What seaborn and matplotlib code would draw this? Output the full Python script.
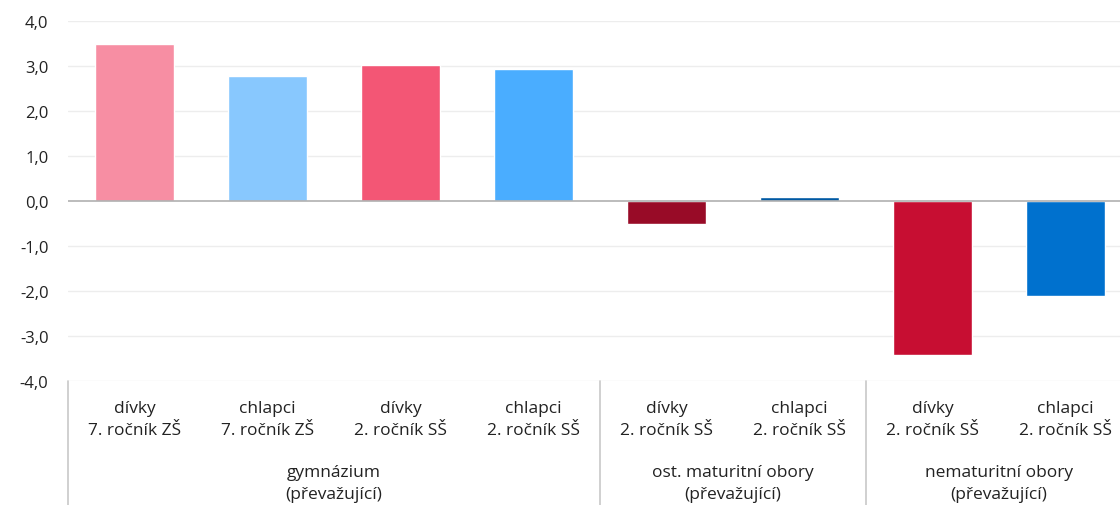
import matplotlib.pyplot as plt
import matplotlib.transforms as mtransforms
import seaborn as sns
import pandas as pd

# data
sexes = ["dívky", "chlapci", "dívky", "chlapci", "dívky", "chlapci", "dívky", "chlapci"]
grades = ["7. ročník ZŠ", "7. ročník ZŠ", "2. ročník SŠ", "2. ročník SŠ",
          "2. ročník SŠ", "2. ročník SŠ", "2. ročník SŠ", "2. ročník SŠ"]
groups = ["gymnázium\n(převažující)", "ost. maturitní obory\n(převažující)",
          "nematuritní obory\n(převažující)"]
group_sizes = [4, 2, 2]
values = [3.49, 2.77, 3.02, 2.93, -0.52, 0.07, -3.44, -2.13]
colors = ["#F78EA3", "#88C8FE", "#F35675", "#4AADFF",
          "#980B27", "#0059A3", "#C70E32", "#0071CE"]
yticks = [-4, -3, -2, -1, 0, 1, 2, 3, 4]

sns.set_style("white")
plt.rcParams["font.family"] = ["Open Sans", "DejaVu Sans"]

df = pd.DataFrame({"idx": [str(i) for i in range(len(values))], "value": values})

fig = plt.figure(figsize=(11.2, 5.06), dpi=100)
# plot area runs a little past the right edge, as in the reference
ax = fig.add_axes([0.0607, 0.246, 0.95, 0.711])

for y in yticks:
    if y != 0:
        ax.axhline(y, color="#EDEDED", lw=1, zorder=0)

sns.barplot(data=df, x="idx", y="value", hue="idx", palette=colors,
            saturation=1, width=0.6, legend=False, ax=ax, zorder=2)
ax.axhline(0, color="#B0B0B0", lw=1.2, zorder=3)

ax.set_ylim(-4, 4)
ax.set_xlim(-0.5, len(values) - 0.5)
ax.set_yticks(yticks)
ax.set_yticklabels([f"{t:.1f}".replace(".", ",") for t in yticks], fontsize=12, color="#222222")
ax.tick_params(axis="y", length=0, pad=14)
ax.set_xticks([])
ax.set_xlabel("")
ax.set_ylabel("")
for s in ax.spines.values():
    s.set_visible(False)

trans = mtransforms.blended_transform_factory(ax.transData, ax.transAxes)
for i, (s, g) in enumerate(zip(sexes, grades)):
    ax.text(i, -0.055, f"{s}\n{g}", transform=trans, ha="center", va="top",
            fontsize=12.5, color="#222222", linespacing=1.5)

start = 0
bounds = [-0.5]
for name, n in zip(groups, group_sizes):
    center = start + (n - 1) / 2
    ax.text(center, -0.232, name, transform=trans, ha="center", va="top",
            fontsize=12.5, color="#222222", linespacing=1.5)
    start += n
    bounds.append(start - 0.5)
for b in bounds[:-1]:
    ax.plot([b, b], [0, -0.36], transform=trans, color="#C8C8C8", lw=1.2, clip_on=False)

fig.savefig("out.png", dpi=100)
